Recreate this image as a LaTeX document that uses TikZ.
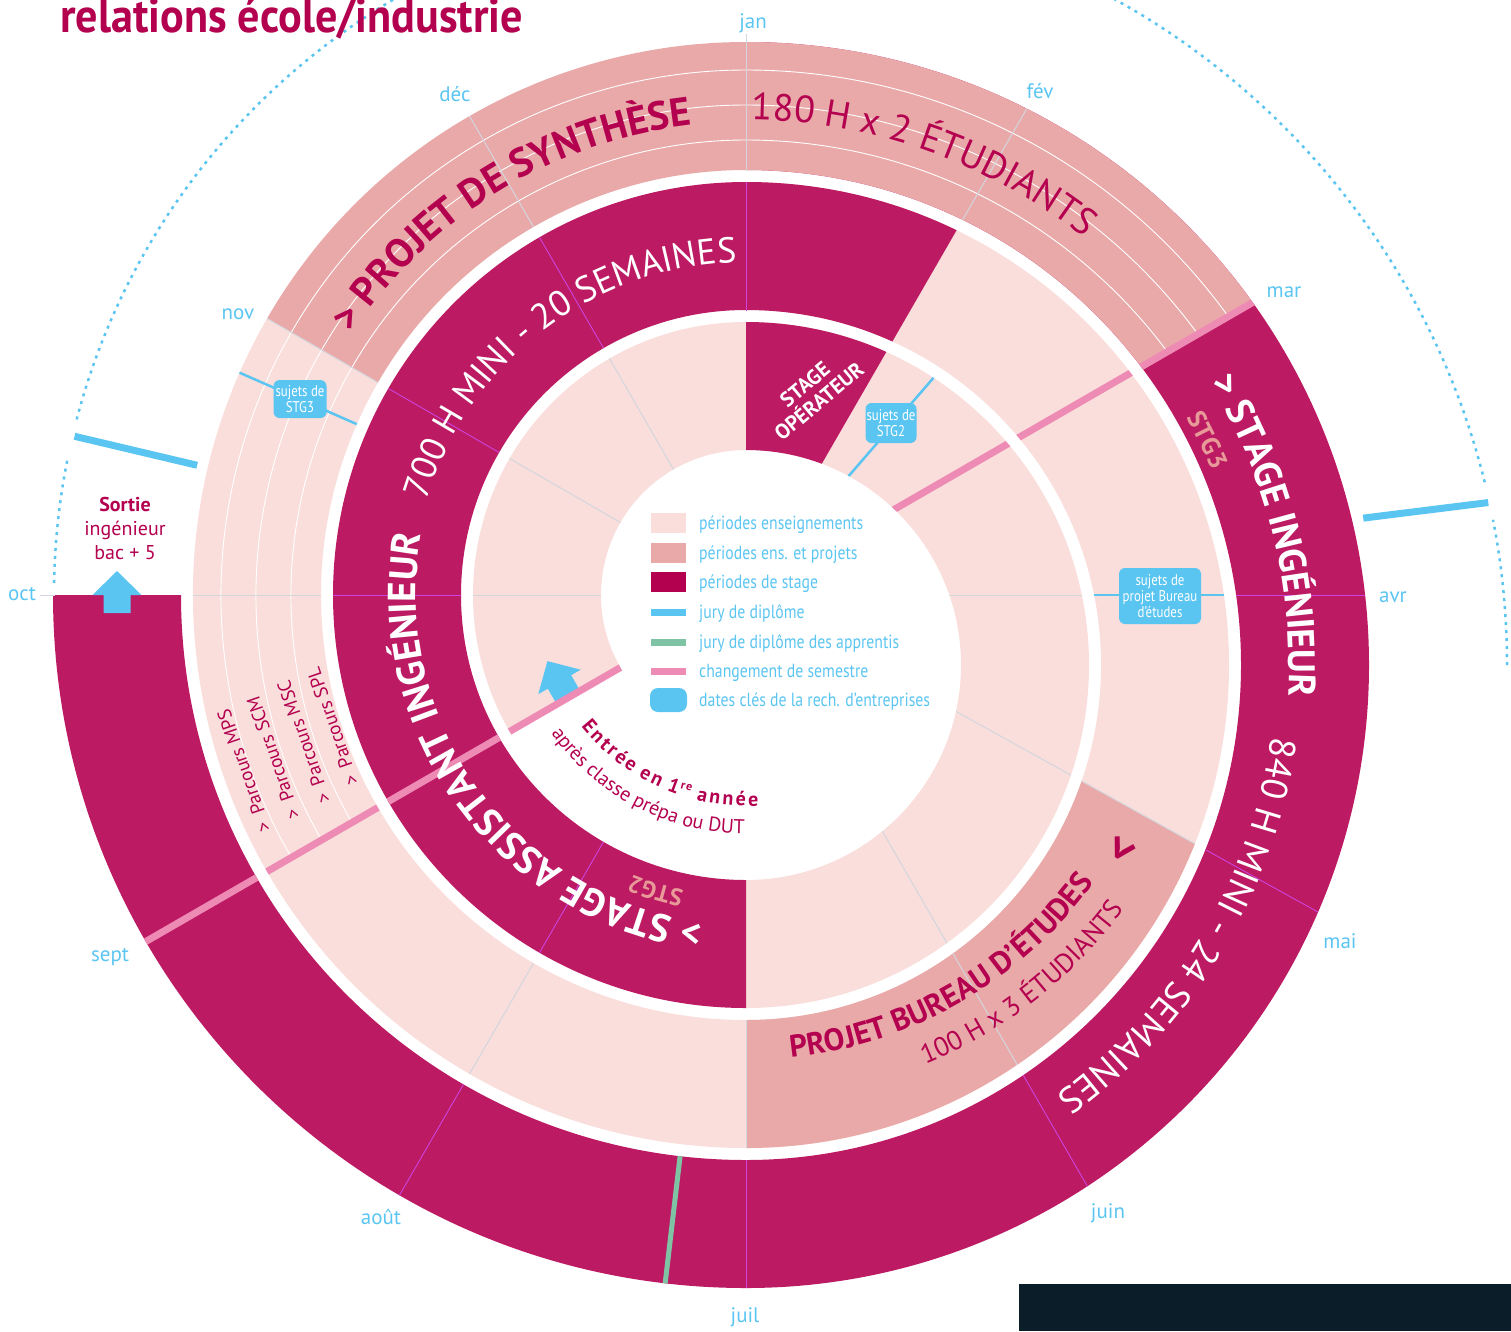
\documentclass[tikz,border=0pt]{standalone}
\usepackage{fontspec}
\setmainfont{PT Sans}
\newfontfamily\condfont[FakeStretch=0.83]{PT Sans}
\usetikzlibrary{calc,decorations.text}
\definecolor{mag}{HTML}{BD1A64}
\definecolor{legmag}{HTML}{B3004F}
\definecolor{lp}{HTML}{F9DEDB}
\definecolor{dp}{HTML}{E9A9A8}
\definecolor{textmag}{HTML}{B3004F}
\definecolor{blu}{HTML}{5BC5F2}
\definecolor{grn}{HTML}{7EC4A4}
\definecolor{pnk}{HTML}{EE8BB5}
\definecolor{salmon}{HTML}{E79A98}
\definecolor{pl}{HTML}{CC44DD}
\definecolor{gl}{HTML}{D3D6DE}
\definecolor{navy}{HTML}{0C1D2A}
\newcommand\fillsect[6]{\fill[#6] ($(#1)+(#4:#3)$) arc[start angle=#4,end angle=#5,radius=#3] -- ($(#1)+(#5:#2)$) arc[start angle=#5,end angle=#4,radius=#2] -- cycle;}
\newcommand\clipsect[5]{\clip ($(#1)+(#4:#3)$) arc[start angle=#4,end angle=#5,radius=#3] -- ($(#1)+(#5:#2)$) arc[start angle=#5,end angle=#4,radius=#2] -- cycle;}
\newcommand\clipwedge[2]{\clip (CL) -- ($(CL)+(#1:2500)$) arc[start angle=#1,end angle=#2,radius=2500] -- cycle;}
\newcommand\rays[2]{\foreach \ang in {#2} {\draw[#1] (CL) -- ($(CL)+(\ang:900)$);}}
\tikzset{
 gline/.style={draw=gl, line width=1pt},
 pline/.style={draw=pl, line width=0.9pt},
 semline/.style={draw=pnk, line width=7pt},
 tagline/.style={draw=blu, line width=2.5pt},
 tagbox/.style={fill=blu, rounded corners=6pt, text=white, align=center, inner sep=1pt, font=\condfont\fontsize{15.5}{16}\selectfont},
 month/.style={text=blu, font=\fontsize{21}{21}\selectfont, anchor=base, inner sep=0pt},
 legtext/.style={text=blu, font=\condfont\fontsize{19}{19}\selectfont, anchor=base west, inner sep=0pt},
 parc/.style={text=textmag, font=\fontsize{19}{19}\selectfont, inner sep=0pt},
 curvetext/.style={decorate, decoration={text along path, text align=center, #1}},
 dotarc/.style={draw=blu, line width=2.5pt, dash pattern=on 3pt off 5pt},
}
\begin{document}
\begin{tikzpicture}[x=1pt,y=1pt]
\useasboundingbox (0,0) rectangle (1511,-1331);
\begin{scope}
\clip (0,0) rectangle (1511,-1331);
\coordinate (CL) at (746,-595);
\coordinate (CR) at (746,-665);
\coordinate (CM) at (746,-630);

% ---------- bands ----------
\fillsect{CL}{145}{273}{90}{210}{lp}
\fillsect{CR}{215}{343}{-90}{90}{lp}
\begin{scope}\clipwedge{90}{60}\fillsect{CR}{215}{343}{-90}{90}{mag}\end{scope}
\fillsect{CL}{285}{413}{90}{270}{mag}
\fillsect{CR}{355}{483}{-90}{90}{lp}
\begin{scope}\clipwedge{90}{60}\fillsect{CR}{355}{483}{-90}{90}{mag}\end{scope}
\begin{scope}\clipwedge{-29}{-90}\fillsect{CR}{355}{483}{-90}{90}{dp}\end{scope}
\fillsect{CL}{425}{553}{150}{270}{lp}
\fillsect{CL}{425}{553}{90}{150}{dp}
\fillsect{CR}{495}{623}{-90}{90}{mag}
\begin{scope}\clipwedge{90}{30}\fillsect{CR}{495}{623}{-90}{90}{dp}\end{scope}
\fillsect{CL}{565}{693}{180}{270}{mag}

% concentric lanes
\foreach \rr in {525,490,455} {\draw[white, line width=0.9pt] ($(CL)+(210:\rr)$) arc[start angle=210,end angle=90,radius=\rr];}
\begin{scope}\clipwedge{90}{30}
\foreach \rr in {595,560,525} {\draw[white, line width=0.9pt] ($(CR)+(90:\rr)$) arc[start angle=90,end angle=20,radius=\rr];}
\end{scope}

% ---------- month lines ----------
\begin{scope}\clipsect{CL}{145}{273}{90}{270}\rays{gline}{120,150,180}\end{scope}
\begin{scope}\clipsect{CR}{215}{343}{-90}{90}\rays{gline}{0,-29,-60}\end{scope}
\begin{scope}\clipsect{CL}{285}{413}{90}{270}\rays{pline}{120,150,180,240}\end{scope}
\begin{scope}\clipsect{CR}{355}{483}{-90}{90}\rays{gline}{-29,-60}\end{scope}
\begin{scope}\clipsect{CL}{425}{553}{90}{270}\rays{gline}{120,150,180,240}\end{scope}
\begin{scope}\clipsect{CR}{495}{623}{-90}{90}\rays{gline}{60}\rays{pline}{0,-29,-60}\end{scope}
\begin{scope}\clipsect{CL}{565}{693}{180}{270}\rays{pline}{240}\end{scope}
\draw[gline] (746,-34) -- (746,-171);
\draw[pline] (746,-182) -- (746,-311);
\draw[gline] (746,-1020) -- (746,-1148);
\draw[pline] (746,-1160) -- (746,-1288);
\draw[gline] (40,-595) -- (55,-595);

% ---------- arrows ----------
\begin{scope}[shift={(117,-613)}]
\fill[blu] (-13.5,0) -- (-13.5,18) -- (-24.5,18) -- (0,42) -- (24.5,18) -- (13.5,18) -- (13.5,0) -- cycle;
\end{scope}
\begin{scope}[shift={($(CL)+(210:205)$)}, rotate=30]
\fill[blu] (-13.5,0) -- (-13.5,18) -- (-24.5,18) -- (0,42) -- (24.5,18) -- (13.5,18) -- (13.5,0) -- cycle;
\end{scope}

% ---------- semester lines ----------
\foreach \ri/\ro in {145/273,285/413,425/553,565/693} {\begin{scope}\clipsect{CL}{\ri}{\ro}{90}{270}\draw[semline] (CL) -- ($(CL)+(210:900)$);\end{scope}}
\foreach \ri/\ro in {215/343,355/483,495/623} {\begin{scope}\clipsect{CR}{\ri}{\ro}{-90}{90}\draw[semline] (CL) -- ($(CL)+(30:900)$);\end{scope}}

% green jury line
\begin{scope}\clipsect{CL}{565}{693}{180}{270}\draw[draw=grn, line width=5pt] (CL) -- ($(CL)+(263.3:900)$);\end{scope}

% tag lines
\begin{scope}\clipsect{CR}{215}{343}{-90}{90}\draw[tagline] (CL) -- ($(CL)+(49.2:900)$);\end{scope}
\begin{scope}\clipsect{CR}{355}{483}{-90}{90}\draw[tagline] (CL) -- ($(CL)+(0:900)$);\end{scope}
\begin{scope}\clipsect{CL}{425}{553}{90}{270}\draw[tagline] (CL) -- ($(CL)+(156.3:900)$);\end{scope}

\node[tagbox, minimum width=51pt, minimum height=40pt] (t2) at (891,-423) {sujets de\\STG2};
\node[tagbox, minimum width=53pt, minimum height=38pt] (t3) at (300,-399) {sujets de\\STG3};
\node[tagbox, minimum width=82pt, minimum height=56pt] (tbe) at (1160,-596) {sujets de\\projet Bureau\\d’études};

% jury lines and dotted arcs
\draw[blu, line width=7pt] ($(CL)+(166.7:564)$) -- ($(CL)+(166.7:690)$);
\draw[blu, line width=7pt] ($(CL)+(7.1:622)$) -- ($(CL)+(7.1:748)$);
\draw[dotarc] ($(CL)+(179:692)$) arc[start angle=179,end angle=168.5,radius=692];
\draw[dotarc] ($(CL)+(165.3:692)$) arc[start angle=165.3,end angle=118,radius=692];
\draw[dotarc] ($(CR)+(0:761)$) arc[start angle=0,end angle=11,radius=761];
\draw[dotarc] ($(CR)+(13.9:761)$) arc[start angle=13.9,end angle=66,radius=761];

% ---------- curved texts ----------
\path[curvetext={text color=white, text={|\fontsize{39}{39}\selectfont\bfseries|> STAGE ASSISTANT INGÉNIEUR}}] ($(CL)+(286:330)$) arc[start angle=286,end angle=146,radius=330];
\path[curvetext={text color=white, text={|\fontsize{36}{36}\selectfont|700 H MINI - 20 SEMAINES}}] ($(CL)+(197.5:333)$) arc[start angle=197.5,end angle=57.5,radius=333];
\path[curvetext={text color=salmon, text={|\fontsize{24}{24}\selectfont\bfseries|STG2}}] ($(CL)+(283:302)$) arc[start angle=283,end angle=223,radius=302];
\path[curvetext={text color=textmag, text={|\fontsize{40}{40}\selectfont\bfseries|> PROJET DE SYNTHÈSE}}] ($(CL)+(181.5:473)$) arc[start angle=181.5,end angle=61.5,radius=473];
\path[curvetext={text color=textmag, text={|\fontsize{38}{38}\selectfont|180 H x 2 ÉTUDIANTS}}] ($(CR)+(125.5:545)$) arc[start angle=125.5,end angle=15.5,radius=545];
\path[curvetext={text color=white, text={|\fontsize{38}{38}\selectfont\bfseries|> STAGE INGÉNIEUR}}] ($(CR)+(64:543)$) arc[start angle=64,end angle=-36,radius=543];
\path[curvetext={text color=salmon, text={|\fontsize{26}{26}\selectfont\bfseries|STG3}}] ($(CR)+(56:505)$) arc[start angle=56,end angle=-4,radius=505];
\path[curvetext={text color=white, text={|\fontsize{37}{37}\selectfont|840 H MINI - 24 SEMAINES}}] ($(CR)+(29:530)$) arc[start angle=29,end angle=-91,radius=530];
\path[curvetext={text color=textmag, text={|\fontsize{31}{31}\selectfont\bfseries|PROJET BUREAU D’ÉTUDES}}] ($(CM)+(-115:430)$) arc[start angle=-115,end angle=-5,radius=430];
\path[curvetext={text color=textmag, text={|\fontsize{27}{27}\selectfont|100 H x 3 ÉTUDIANTS}}] ($(CM)+(-102:470)$) arc[start angle=-102,end angle=-2,radius=470];
\path[curvetext={text color=textmag, text={|\fontsize{20}{20}\selectfont\bfseries|{E\kern2.6pt}{n\kern2.6pt}{t\kern2.6pt}{r\kern2.6pt}{é\kern2.6pt}{e\kern2.6pt} {e\kern2.6pt}{n\kern2.6pt} {1\kern1pt}{\raisebox{7pt}{\fontsize{12}{12}\selectfont r\kern1.2pt e}\kern2.6pt} {a\kern2.6pt}{n\kern2.6pt}{n\kern2.6pt}{é\kern2.6pt}e}}] ($(CL)+(196:211)$) arc[start angle=196,end angle=296,radius=211];
\path[curvetext={text color=textmag, text={|\fontsize{20}{20}\selectfont|après classe prépa ou DUT}}] ($(CL)+(192.5:239)$) arc[start angle=192.5,end angle=292.5,radius=239];

\node[text=textmag, font=\fontsize{46}{46}\selectfont\bfseries, rotate=59.5, inner sep=0pt] (chev) at (1123,-850) {<};
\node[text=white, font=\fontsize{21}{22}\selectfont\bfseries, rotate=40, align=center, inner sep=0pt] (stop) at (812,-393) {STAGE\\OPÉRATEUR};

% parcours
\node[parc, rotate=109] (pmps) at ($(CL)+(199.3:532)$) {>\hspace{9pt}Parcours MPS};
\node[parc, rotate=109] (pscm) at ($(CL)+(199:500)$) {>\hspace{9pt}Parcours SCM};
\node[parc, rotate=109] (pmsc) at ($(CL)+(198.4:466)$) {>\hspace{9pt}Parcours MSC};
\node[parc, rotate=109] (pspl) at ($(CL)+(197.7:434)$) {>\hspace{9pt}Parcours SPL};

% sortie
\node[text=textmag, font=\fontsize{20}{24}\selectfont, align=center, inner sep=0pt] (sortie) at (125,-528) {\textbf{Sortie}\\ingénieur\\bac + 5};

% ---------- legend ----------
\fill[lp] (651,-513) rectangle (686,-533);
\fill[dp] (651,-543) rectangle (686,-563);
\fill[legmag] (651,-572) rectangle (686,-592);
\fill[blu] (651,-609) rectangle (686,-616);
\fill[grn] (651,-639) rectangle (686,-646);
\fill[pnk] (651,-668) rectangle (686,-675);
\fill[blu, rounded corners=8pt] (650,-688) rectangle (687,-712);
\node[legtext] (l1) at (699,-529) {périodes enseignements};
\node[legtext] (l2) at (699,-559) {périodes ens. et projets};
\node[legtext] (l3) at (699,-588) {périodes de stage};
\node[legtext] (l4) at (699,-618) {jury de diplôme};
\node[legtext] (l5) at (699,-648) {jury de diplôme des apprentis};
\node[legtext] (l6) at (699,-677) {changement de semestre};
\node[legtext] (l7) at (699,-706) {dates clés de la rech. d’entreprises};

% ---------- months ----------
\node[month] (mjan) at (753,-28) {jan};
\node[month] (mfev) at (1040,-98) {fév};
\node[month] (mmar) at (1284,-297) {mar};
\node[month] (mavr) at (1393,-602) {avr};
\node[month] (mmai) at (1340,-948) {mai};
\node[month] (mjuin) at (1108,-1218) {juin};
\node[month] (mjuil) at (745,-1322) {juil};
\node[month] (maout) at (381,-1224) {août};
\node[month] (msept) at (110,-961) {sept};
\node[month] (moct) at (22,-600) {oct};
\node[month] (mnov) at (238,-319) {nov};
\node[month] (mdec) at (455,-101) {déc};

% title
\node[anchor=base west, text=textmag, font=\fontsize{48}{48}\selectfont\bfseries, inner sep=0pt] (title) at (60,-32) {\scalebox{0.92}[1]{relations école/industrie}};

\fill[navy] (1019,-1284) rectangle (1511,-1331);
\end{scope}
\end{tikzpicture}
\end{document}
